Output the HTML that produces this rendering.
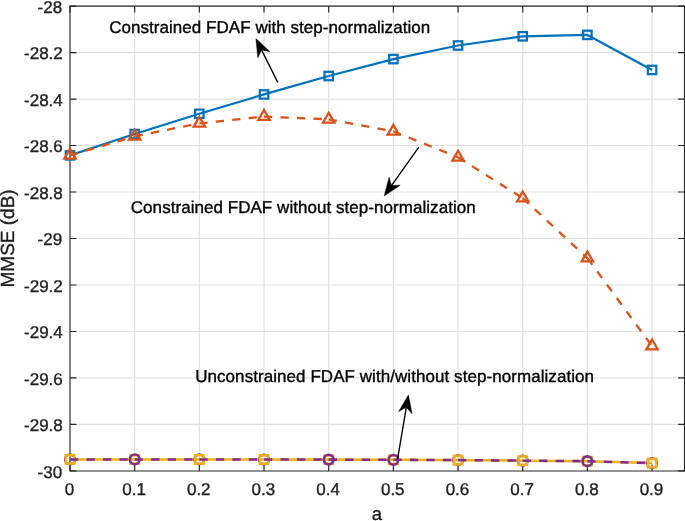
<!DOCTYPE html>
<html><head><meta charset="utf-8"><title>MMSE vs a</title>
<style>html,body{margin:0;padding:0;background:#fff;}body{width:685px;height:521px;overflow:hidden;position:relative;font-family:"Liberation Sans",sans-serif;}</style>
</head><body>
<svg width="685" height="521" viewBox="0 0 685 521" style="position:absolute;left:0;top:0;display:block;text-rendering:geometricPrecision;will-change:transform">
<rect width="685" height="521" fill="#fff"/>
<path d="M134.68 6.1V470.9M199.35 6.1V470.9M264.02 6.1V470.9M328.70 6.1V470.9M393.38 6.1V470.9M458.05 6.1V470.9M522.72 6.1V470.9M587.40 6.1V470.9M652.07 6.1V470.9" stroke="#e0e0e0" stroke-width="1.15" fill="none"/>
<path d="M70.0 52.58H684.5M70.0 99.06H684.5M70.0 145.54H684.5M70.0 192.02H684.5M70.0 238.50H684.5M70.0 284.98H684.5M70.0 331.46H684.5M70.0 377.94H684.5M70.0 424.42H684.5" stroke="#e0e0e0" stroke-width="1.15" fill="none"/>
<path d="M70.00 470.9v-6.4M70.00 6.1v6.4M134.68 470.9v-6.4M134.68 6.1v6.4M199.35 470.9v-6.4M199.35 6.1v6.4M264.02 470.9v-6.4M264.02 6.1v6.4M328.70 470.9v-6.4M328.70 6.1v6.4M393.38 470.9v-6.4M393.38 6.1v6.4M458.05 470.9v-6.4M458.05 6.1v6.4M522.72 470.9v-6.4M522.72 6.1v6.4M587.40 470.9v-6.4M587.40 6.1v6.4M652.07 470.9v-6.4M652.07 6.1v6.4M70.0 6.10h6.4M684.5 6.10h-6.4M70.0 52.58h6.4M684.5 52.58h-6.4M70.0 99.06h6.4M684.5 99.06h-6.4M70.0 145.54h6.4M684.5 145.54h-6.4M70.0 192.02h6.4M684.5 192.02h-6.4M70.0 238.50h6.4M684.5 238.50h-6.4M70.0 284.98h6.4M684.5 284.98h-6.4M70.0 331.46h6.4M684.5 331.46h-6.4M70.0 377.94h6.4M684.5 377.94h-6.4M70.0 424.42h6.4M684.5 424.42h-6.4M70.0 470.90h6.4M684.5 470.90h-6.4" stroke="#262626" stroke-width="1.15" fill="none"/>
<path d="M70.0 471.0V6.1H684.5V471.0H70.0Z" stroke="#262626" stroke-width="1.15" fill="none" stroke-linejoin="miter"/>
<polyline points="70.00,155.40 134.68,134.05 199.35,113.80 264.02,94.45 328.70,76.00 393.38,59.10 458.05,45.50 522.72,36.30 587.40,34.90 652.07,69.95" fill="none" stroke="#0072bd" stroke-width="2.25" stroke-linejoin="round"/>
<rect x="65.80" y="151.20" width="8.4" height="8.4" fill="none" stroke="#0072bd" stroke-width="2.25"/>
<rect x="130.48" y="129.85" width="8.4" height="8.4" fill="none" stroke="#0072bd" stroke-width="2.25"/>
<rect x="195.15" y="109.60" width="8.4" height="8.4" fill="none" stroke="#0072bd" stroke-width="2.25"/>
<rect x="259.82" y="90.25" width="8.4" height="8.4" fill="none" stroke="#0072bd" stroke-width="2.25"/>
<rect x="324.50" y="71.80" width="8.4" height="8.4" fill="none" stroke="#0072bd" stroke-width="2.25"/>
<rect x="389.18" y="54.90" width="8.4" height="8.4" fill="none" stroke="#0072bd" stroke-width="2.25"/>
<rect x="453.85" y="41.30" width="8.4" height="8.4" fill="none" stroke="#0072bd" stroke-width="2.25"/>
<rect x="518.52" y="32.10" width="8.4" height="8.4" fill="none" stroke="#0072bd" stroke-width="2.25"/>
<rect x="583.20" y="30.70" width="8.4" height="8.4" fill="none" stroke="#0072bd" stroke-width="2.25"/>
<rect x="647.87" y="65.75" width="8.4" height="8.4" fill="none" stroke="#0072bd" stroke-width="2.25"/>
<line x1="70.00" y1="155.40" x2="134.68" y2="136.30" stroke="#d95319" stroke-width="2.3" stroke-dasharray="8.3 8.2"/><line x1="134.68" y1="136.30" x2="199.35" y2="123.40" stroke="#d95319" stroke-width="2.3" stroke-dasharray="8.3 8.2"/><line x1="199.35" y1="123.40" x2="264.02" y2="116.60" stroke="#d95319" stroke-width="2.3" stroke-dasharray="8.3 8.2"/><line x1="264.02" y1="116.60" x2="328.70" y2="119.30" stroke="#d95319" stroke-width="2.3" stroke-dasharray="8.3 8.2"/><line x1="328.70" y1="119.30" x2="393.38" y2="131.40" stroke="#d95319" stroke-width="2.3" stroke-dasharray="8.3 8.2"/><line x1="393.38" y1="131.40" x2="458.05" y2="157.30" stroke="#d95319" stroke-width="2.3" stroke-dasharray="8.3 8.2"/><line x1="458.05" y1="157.30" x2="522.72" y2="198.15" stroke="#d95319" stroke-width="2.3" stroke-dasharray="8.3 8.2"/><line x1="522.72" y1="198.15" x2="587.40" y2="258.15" stroke="#d95319" stroke-width="2.3" stroke-dasharray="8.3 8.2"/><line x1="587.40" y1="258.15" x2="652.07" y2="346.10" stroke="#d95319" stroke-width="2.3" stroke-dasharray="8.3 8.2"/>
<path d="M70.00 148.82L75.70 158.69L64.30 158.69Z" fill="none" stroke="#d95319" stroke-width="2.3" stroke-linejoin="miter"/>
<path d="M134.68 129.72L140.38 139.59L128.98 139.59Z" fill="none" stroke="#d95319" stroke-width="2.3" stroke-linejoin="miter"/>
<path d="M199.35 116.82L205.05 126.69L193.65 126.69Z" fill="none" stroke="#d95319" stroke-width="2.3" stroke-linejoin="miter"/>
<path d="M264.02 110.02L269.72 119.89L258.32 119.89Z" fill="none" stroke="#d95319" stroke-width="2.3" stroke-linejoin="miter"/>
<path d="M328.70 112.72L334.40 122.59L323.00 122.59Z" fill="none" stroke="#d95319" stroke-width="2.3" stroke-linejoin="miter"/>
<path d="M393.38 124.82L399.07 134.69L387.68 134.69Z" fill="none" stroke="#d95319" stroke-width="2.3" stroke-linejoin="miter"/>
<path d="M458.05 150.72L463.75 160.59L452.35 160.59Z" fill="none" stroke="#d95319" stroke-width="2.3" stroke-linejoin="miter"/>
<path d="M522.72 191.57L528.42 201.44L517.02 201.44Z" fill="none" stroke="#d95319" stroke-width="2.3" stroke-linejoin="miter"/>
<path d="M587.40 251.57L593.10 261.44L581.70 261.44Z" fill="none" stroke="#d95319" stroke-width="2.3" stroke-linejoin="miter"/>
<path d="M652.07 339.52L657.77 349.39L646.37 349.39Z" fill="none" stroke="#d95319" stroke-width="2.3" stroke-linejoin="miter"/>
<polyline points="70.00,459.40 134.68,459.40 199.35,459.40 264.02,459.50 328.70,459.60 393.38,459.80 458.05,460.10 522.72,460.65 587.40,461.20 652.07,463.10" fill="none" stroke="#edb120" stroke-width="2.55" stroke-linejoin="round"/>
<circle cx="70.00" cy="459.40" r="4.85" fill="none" stroke="#7e2f8e" stroke-width="2.55"/><rect x="65.80" y="455.20" width="8.4" height="8.4" fill="none" stroke="#edb120" stroke-width="2.55"/>
<rect x="130.48" y="455.20" width="8.4" height="8.4" fill="none" stroke="#edb120" stroke-width="2.55"/><circle cx="134.68" cy="459.40" r="4.85" fill="none" stroke="#7e2f8e" stroke-width="2.55"/>
<circle cx="199.35" cy="459.40" r="4.85" fill="none" stroke="#7e2f8e" stroke-width="2.55"/><rect x="195.15" y="455.20" width="8.4" height="8.4" fill="none" stroke="#edb120" stroke-width="2.55"/>
<circle cx="264.02" cy="459.50" r="4.85" fill="none" stroke="#7e2f8e" stroke-width="2.55"/><rect x="259.82" y="455.30" width="8.4" height="8.4" fill="none" stroke="#edb120" stroke-width="2.55"/>
<rect x="324.50" y="455.40" width="8.4" height="8.4" fill="none" stroke="#edb120" stroke-width="2.55"/><circle cx="328.70" cy="459.60" r="4.85" fill="none" stroke="#7e2f8e" stroke-width="2.55"/>
<rect x="389.18" y="455.60" width="8.4" height="8.4" fill="none" stroke="#edb120" stroke-width="2.55"/><circle cx="393.38" cy="459.80" r="4.85" fill="none" stroke="#7e2f8e" stroke-width="2.55"/>
<circle cx="458.05" cy="460.10" r="4.85" fill="none" stroke="#7e2f8e" stroke-width="2.55"/><rect x="453.85" y="455.90" width="8.4" height="8.4" fill="none" stroke="#edb120" stroke-width="2.55"/>
<circle cx="522.72" cy="460.65" r="4.85" fill="none" stroke="#7e2f8e" stroke-width="2.55"/><rect x="518.52" y="456.45" width="8.4" height="8.4" fill="none" stroke="#edb120" stroke-width="2.55"/>
<rect x="583.20" y="457.00" width="8.4" height="8.4" fill="none" stroke="#edb120" stroke-width="2.55"/><circle cx="587.40" cy="461.20" r="4.85" fill="none" stroke="#7e2f8e" stroke-width="2.55"/>
<circle cx="652.07" cy="463.10" r="4.85" fill="none" stroke="#7e2f8e" stroke-width="2.55"/><rect x="647.87" y="458.90" width="8.4" height="8.4" fill="none" stroke="#edb120" stroke-width="2.55"/>
<line x1="70.00" y1="459.40" x2="134.68" y2="459.40" stroke="#7e2f8e" stroke-width="2.55" stroke-dasharray="8.3 8.2"/><line x1="134.68" y1="459.40" x2="199.35" y2="459.40" stroke="#7e2f8e" stroke-width="2.55" stroke-dasharray="8.3 8.2"/><line x1="199.35" y1="459.40" x2="264.02" y2="459.50" stroke="#7e2f8e" stroke-width="2.55" stroke-dasharray="8.3 8.2"/><line x1="264.02" y1="459.50" x2="328.70" y2="459.60" stroke="#7e2f8e" stroke-width="2.55" stroke-dasharray="8.3 8.2"/><line x1="328.70" y1="459.60" x2="393.38" y2="459.80" stroke="#7e2f8e" stroke-width="2.55" stroke-dasharray="8.3 8.2"/><line x1="393.38" y1="459.80" x2="458.05" y2="460.10" stroke="#7e2f8e" stroke-width="2.55" stroke-dasharray="8.3 8.2"/><line x1="458.05" y1="460.10" x2="522.72" y2="460.65" stroke="#7e2f8e" stroke-width="2.55" stroke-dasharray="8.3 8.2"/><line x1="522.72" y1="460.65" x2="587.40" y2="461.20" stroke="#7e2f8e" stroke-width="2.55" stroke-dasharray="8.3 8.2"/><line x1="587.40" y1="461.20" x2="652.07" y2="463.10" stroke="#7e2f8e" stroke-width="2.55" stroke-dasharray="8.3 8.2"/>
<line x1="277.80" y1="82.40" x2="261.53" y2="49.87" stroke="#000" stroke-width="1.35"/><path d="M255.90 38.60L270.03 51.66L261.53 49.87L257.87 57.74Z" fill="#000" stroke="#000" stroke-width="0.5" stroke-linejoin="miter" stroke-miterlimit="10"/>
<line x1="418.80" y1="147.10" x2="391.49" y2="185.62" stroke="#000" stroke-width="1.35"/><path d="M384.20 195.90L389.06 177.28L391.49 185.62L400.16 185.15Z" fill="#000" stroke="#000" stroke-width="0.5" stroke-linejoin="miter" stroke-miterlimit="10"/>
<line x1="397.65" y1="458.60" x2="406.30" y2="407.32" stroke="#000" stroke-width="1.35"/><path d="M408.40 394.90L412.11 413.78L406.30 407.32L398.70 411.52Z" fill="#000" stroke="#000" stroke-width="0.5" stroke-linejoin="miter" stroke-miterlimit="10"/>
<text x="62.1" y="12.70" font-family="Liberation Sans, sans-serif" font-size="17" text-anchor="end" stroke="#202020" stroke-width="0.35" fill="#202020">-28</text>
<text x="62.8" y="59.18" font-family="Liberation Sans, sans-serif" font-size="17" text-anchor="end" stroke="#202020" stroke-width="0.35" fill="#202020">-28.2</text>
<text x="62.8" y="105.66" font-family="Liberation Sans, sans-serif" font-size="17" text-anchor="end" stroke="#202020" stroke-width="0.35" fill="#202020">-28.4</text>
<text x="62.8" y="152.14" font-family="Liberation Sans, sans-serif" font-size="17" text-anchor="end" stroke="#202020" stroke-width="0.35" fill="#202020">-28.6</text>
<text x="62.8" y="198.62" font-family="Liberation Sans, sans-serif" font-size="17" text-anchor="end" stroke="#202020" stroke-width="0.35" fill="#202020">-28.8</text>
<text x="62.1" y="245.10" font-family="Liberation Sans, sans-serif" font-size="17" text-anchor="end" stroke="#202020" stroke-width="0.35" fill="#202020">-29</text>
<text x="62.8" y="291.58" font-family="Liberation Sans, sans-serif" font-size="17" text-anchor="end" stroke="#202020" stroke-width="0.35" fill="#202020">-29.2</text>
<text x="62.8" y="338.06" font-family="Liberation Sans, sans-serif" font-size="17" text-anchor="end" stroke="#202020" stroke-width="0.35" fill="#202020">-29.4</text>
<text x="62.8" y="384.54" font-family="Liberation Sans, sans-serif" font-size="17" text-anchor="end" stroke="#202020" stroke-width="0.35" fill="#202020">-29.6</text>
<text x="62.8" y="431.02" font-family="Liberation Sans, sans-serif" font-size="17" text-anchor="end" stroke="#202020" stroke-width="0.35" fill="#202020">-29.8</text>
<text x="62.1" y="477.50" font-family="Liberation Sans, sans-serif" font-size="17" text-anchor="end" stroke="#202020" stroke-width="0.35" fill="#202020">-30</text>
<text x="69.40" y="494.8" font-family="Liberation Sans, sans-serif" font-size="17" text-anchor="middle" stroke="#202020" stroke-width="0.35" fill="#202020">0</text>
<text x="134.08" y="494.8" font-family="Liberation Sans, sans-serif" font-size="17" text-anchor="middle" stroke="#202020" stroke-width="0.35" fill="#202020">0.1</text>
<text x="198.75" y="494.8" font-family="Liberation Sans, sans-serif" font-size="17" text-anchor="middle" stroke="#202020" stroke-width="0.35" fill="#202020">0.2</text>
<text x="263.42" y="494.8" font-family="Liberation Sans, sans-serif" font-size="17" text-anchor="middle" stroke="#202020" stroke-width="0.35" fill="#202020">0.3</text>
<text x="328.10" y="494.8" font-family="Liberation Sans, sans-serif" font-size="17" text-anchor="middle" stroke="#202020" stroke-width="0.35" fill="#202020">0.4</text>
<text x="392.77" y="494.8" font-family="Liberation Sans, sans-serif" font-size="17" text-anchor="middle" stroke="#202020" stroke-width="0.35" fill="#202020">0.5</text>
<text x="457.45" y="494.8" font-family="Liberation Sans, sans-serif" font-size="17" text-anchor="middle" stroke="#202020" stroke-width="0.35" fill="#202020">0.6</text>
<text x="522.12" y="494.8" font-family="Liberation Sans, sans-serif" font-size="17" text-anchor="middle" stroke="#202020" stroke-width="0.35" fill="#202020">0.7</text>
<text x="586.80" y="494.8" font-family="Liberation Sans, sans-serif" font-size="17" text-anchor="middle" stroke="#202020" stroke-width="0.35" fill="#202020">0.8</text>
<text x="651.47" y="494.8" font-family="Liberation Sans, sans-serif" font-size="17" text-anchor="middle" stroke="#202020" stroke-width="0.35" fill="#202020">0.9</text>
<text x="376.8" y="520.4" font-family="Liberation Sans, sans-serif" font-size="18.5" text-anchor="middle" stroke="#202020" stroke-width="0.35" fill="#202020">a</text>
<text transform="translate(14.3,238.4) rotate(-90)" font-family="Liberation Sans, sans-serif" font-size="19" text-anchor="middle" fill="#202020" stroke="#202020" stroke-width="0.35">MMSE (dB)</text>
<text x="109.2" y="32.9" font-family="Liberation Sans, sans-serif" font-size="17" text-anchor="start" fill="#000" stroke="#000" stroke-width="0.35" id="t1" textLength="321" lengthAdjust="spacing">Constrained FDAF with step-normalization</text>
<text x="130.8" y="213.2" font-family="Liberation Sans, sans-serif" font-size="17" text-anchor="start" fill="#000" stroke="#000" stroke-width="0.35" id="t2" textLength="344.9" lengthAdjust="spacing">Constrained FDAF without step-normalization</text>
<text x="195.2" y="382.0" font-family="Liberation Sans, sans-serif" font-size="17" text-anchor="start" fill="#000" stroke="#000" stroke-width="0.35" id="t3" textLength="398.8" lengthAdjust="spacing">Unconstrained FDAF with/without step-normalization</text>
</svg>
</body></html>
